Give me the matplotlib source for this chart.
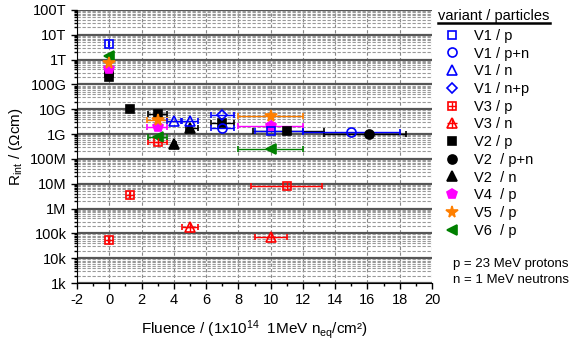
import numpy as np
import matplotlib
matplotlib.use('Agg')
import matplotlib.pyplot as plt
from matplotlib.lines import Line2D
from matplotlib.ticker import FixedLocator, LogLocator, MultipleLocator, FuncFormatter, NullFormatter

plt.rcParams['font.family'] = ['Liberation Sans', 'DejaVu Sans']
plt.rcParams['mathtext.fontset'] = 'custom'
plt.rcParams['mathtext.rm'] = 'Liberation Sans'
plt.rcParams['mathtext.it'] = 'Liberation Sans'
plt.rcParams['axes.unicode_minus'] = False

# data: fluence (1e14 neq/cm2), resistivity (Ohm cm), x error (low, high)
v1p_x = [0, 10]
v1p_y = [4.4e12, 1.3e9]
v1p_xe = [[0, 1.0], [0, 2.0]]

v1pn_x = [7, 15]
v1pn_y = [1.8e9, 1.26e9]
v1pn_xe = [[0.7, 3.0], [0.7, 3.0]]

v1n_x = [4, 5]
v1n_y = [3.5e9, 3.5e9]
v1n_xe = [[0.4, 0.55], [0.5, 0.5]]

v1np_x = [7]
v1np_y = [5.6e9]
v1np_xe = [[0.7], [0.7]]

v3p_x = [0, 1.3, 3, 11]
v3p_y = [5.4e4, 3.5e6, 5.0e8, 8.3e6]
v3p_xe = [[0, 0, 0.6, 2.2], [0, 0, 0.6, 2.2]]

v3n_x = [5, 10]
v3n_y = [1.8e5, 7.4e4]
v3n_xe = [[0.5, 1.0], [0.5, 1.0]]

v2p_x = [0, 0, 1.3, 3, 7, 11]
v2p_y = [2.0e11, 3.0e11, 1.0e10, 6.5e9, 2.8e9, 1.35e9]
v2p_xe = [[0, 0, 0, 0.6, 0.7, 2.1], [0, 0, 0, 0.6, 0.7, 2.3]]

v2pn_x = [16.1]
v2pn_y = [1.0e9]
v2pn_xe = [[2.8], [2.3]]

v2n_x = [4, 5]
v2n_y = [4.0e8, 1.7e9]
v2n_xe = [[0, 0.25], [0.15, 0.5]]

v4p_x = [0, 3, 10]
v4p_y = [4.2e11, 2.0e9, 2.1e9]
v4p_xe = [[0, 0.65, 2], [0, 0.6, 2]]

v5p_x = [0, 3, 10]
v5p_y = [7.6e11, 3.7e9, 5.4e9]
v5p_xe = [[0, 0.65, 2], [0, 0.6, 2]]

v6p_x = [0, 3, 10]
v6p_y = [1.33e12, 7.9e8, 2.4e8]
v6p_xe = [[0, 0.6, 2], [0, 0.6, 2]]

y_ticks = [1e3, 1e4, 1e5, 1e6, 1e7, 1e8, 1e9, 1e10, 1e11, 1e12, 1e13, 1e14]
y_labels = ['1k', '10k', '100k', '1M', '10M', '100M', '1G', '10G', '100G', '1T', '10T', '100T']

fig = plt.figure(figsize=(5.7, 3.42), dpi=100)
ax = fig.add_axes([0.135, 0.1725, 0.623, 0.7985])

ax.set_yscale('log')
ax.set_xlim(-2, 20)
ax.set_ylim(1e3, 1e14)

# grid
ax.yaxis.set_major_locator(FixedLocator(y_ticks))
ax.yaxis.set_major_formatter(FuncFormatter(lambda v, p: y_labels[y_ticks.index(v)] if v in y_ticks else ''))
ax.yaxis.set_minor_locator(LogLocator(base=10, subs=np.arange(2, 10), numticks=30))
ax.yaxis.set_minor_formatter(NullFormatter())
ax.xaxis.set_major_locator(MultipleLocator(2))
ax.xaxis.set_minor_locator(MultipleLocator(1))
ax.grid(True, which='major', axis='y', color='#555555', linewidth=1.6)
ax.grid(True, which='minor', axis='y', color='#999999', linewidth=0.8, linestyle=(0, (3, 1.5)))
ax.grid(True, which='major', axis='x', color='#888888', linewidth=0.8, linestyle=(0, (3, 2)))
ax.set_axisbelow(True)
for s in ['top', 'right']:
    ax.spines[s].set_visible(False)
ax.tick_params(which='both', direction='out', labelsize=10.5, width=1)
ax.tick_params(which='major', length=4)
ax.tick_params(which='minor', length=2.5)

ms = 5.8
eb = dict(linestyle='none', elinewidth=1, capsize=2.5, capthick=1)

def series(x, y, xe, color, marker, mfc, size=ms, overlay=None):
    ax.errorbar(x, y, xerr=xe, fmt=marker, color=color, ecolor=color, mfc=mfc,
                mec=color, ms=size, mew=1.2, zorder=3, **eb)
    if overlay is not None:
        ax.plot(x, y, linestyle='none', marker=overlay, color=color, ms=size, mew=1, zorder=4)

blue, red, mag, orange, green = '#0000ff', '#ff0000', '#ff00ff', '#ff7f00', '#008000'
series(v3p_x, v3p_y, v3p_xe, red, 's', 'none', overlay='+')
series(v3n_x, v3n_y, v3n_xe, red, '^', 'none', size=6.5, overlay='+')
series(v6p_x, v6p_y, v6p_xe, green, '<', green, size=7.5)
series(v2p_x, v2p_y, v2p_xe, 'black', 's', 'black')
series(v2pn_x, v2pn_y, v2pn_xe, 'black', 'o', 'black', size=6.5)
series(v2n_x, v2n_y, v2n_xe, 'black', '^', 'black', size=6.5)
series(v4p_x, v4p_y, v4p_xe, mag, 'p', mag, size=7)
series(v5p_x, v5p_y, v5p_xe, orange, '*', orange, size=8.5)
series(v1p_x, v1p_y, v1p_xe, blue, 's', 'none')
series(v1pn_x, v1pn_y, v1pn_xe, blue, 'o', 'none', size=6.5)
series(v1n_x, v1n_y, v1n_xe, blue, '^', 'none', size=6.5)
series(v1np_x, v1np_y, v1np_xe, blue, 'D', 'none', size=5.5)

ax.set_xlabel('Fluence / (1x10$^{14}$  1MeV n$_{\\mathrm{eq}}$/cm²)', fontsize=11, labelpad=8)
ax.set_ylabel('R$_{\\mathrm{int}}$ / (\u03a9cm)', fontsize=11, labelpad=3)

def h(marker, color, mfc, size=ms, overlay=None):
    l = Line2D([], [], linestyle='none', marker=marker, color=color, mfc=mfc, mec=color, ms=size, mew=1.2)
    if overlay:
        return (l, Line2D([], [], linestyle='none', marker=overlay, color=color, ms=size, mew=1))
    return l

handles = [h('s', blue, 'none'), h('o', blue, 'none', 6.5), h('^', blue, 'none', 6.5), h('D', blue, 'none', 5.5),
           h('s', red, 'none', overlay='+'), h('^', red, 'none', 6.5, overlay='+'),
           h('s', 'black', 'black'), h('o', 'black', 'black', 6.5), h('^', 'black', 'black', 6.5),
           h('p', mag, mag, 7), h('*', orange, orange, 8.5), h('<', green, green, 7.5)]
labels = ['V1 / p', 'V1 / p+n', 'V1 / n', 'V1 / n+p', 'V3 / p', 'V3 / n', 'V2 / p',
          'V2  / p+n', 'V2  / n', 'V4  / p', 'V5  / p', 'V6  / p']
fig.legend(handles, labels, loc='upper left', bbox_to_anchor=(0.765, 0.937), frameon=False,
           fontsize=10.5, labelspacing=0.255, handlelength=1.2, handletextpad=0.9, borderpad=0)

fig.text(0.768, 0.952, 'variant / particles', fontsize=10.5, va='center', ha='left')
fig.add_artist(Line2D([0.768, 0.965], [0.932, 0.932], color='black', linewidth=1.8, transform=fig.transFigure))
fig.text(0.795, 0.228, 'p = 23 MeV protons', fontsize=9.5, va='center', ha='left')
fig.text(0.795, 0.181, 'n = 1 MeV neutrons', fontsize=9.5, va='center', ha='left')

fig.savefig('out.png', dpi=100)
